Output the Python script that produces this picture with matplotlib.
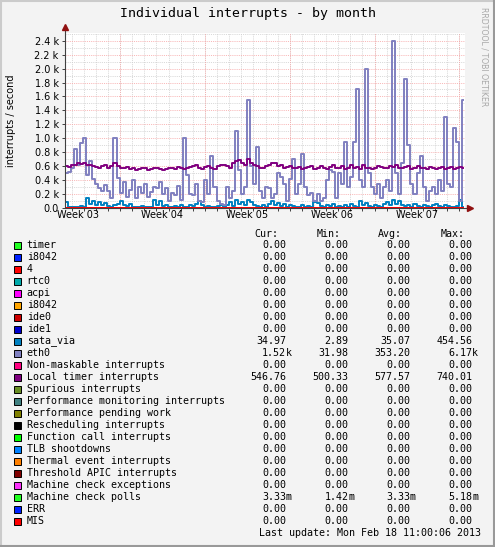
import matplotlib
matplotlib.use("Agg")
import matplotlib.pyplot as plt
import matplotlib.patches as patches
from matplotlib.lines import Line2D
from matplotlib.ticker import FuncFormatter, FixedLocator
import numpy as np

W, H = 495, 547

# 6-hour samples over the 33 day window (days since Wed Jan 16 11:00)
eth0 = [500, 510, 580, 850, 620, 930, 1000, 480, 680, 420,
        350, 280, 240, 330, 250, 140, 1000, 430, 220, 380,
        160, 260, 400, 150, 300, 220, 350, 160, 230, 300,
        280, 380, 200, 290, 100, 210, 190, 310, 120, 1000,
        480, 200, 180, 350, 100, 80, 400, 200, 750, 300,
        100, 60, 50, 300, 150, 250, 1100, 550, 200, 300,
        1550, 600, 350, 880, 250, 150, 300, 280, 150, 200,
        500, 450, 350, 100, 420, 700, 200, 350, 780, 300,
        180, 220, 100, 200, 100, 150, 400, 550, 520, 150,
        500, 350, 950, 300, 450, 950, 1700, 400, 300, 2000,
        500, 300, 200, 350, 150, 300, 400, 250, 2400, 500,
        200, 650, 1850, 900, 350, 200, 500, 750, 300, 100,
        250, 300, 200, 400, 250, 1300, 350, 300, 1150, 950,
        100, 1550]

local_timer = [600, 590, 610, 620, 640, 630, 650, 610, 620, 600, 590,
               580, 600, 620, 580, 600, 640, 600, 580, 570, 590,
               560, 570, 550, 560, 580, 570, 550, 560, 580, 570,
               560, 540, 560, 580, 570, 560, 590, 580, 560, 570,
               590, 600, 610, 570, 560, 590, 600, 580, 560, 600,
               620, 610, 600, 580, 640, 680, 690, 650, 620, 700,
               650, 610, 600, 580, 570, 600, 620, 650, 640, 600,
               620, 580, 590, 600, 570, 580, 590, 560, 570, 590,
               600, 560, 570, 600, 580, 560, 590, 610, 570, 580,
               600, 560, 580, 620, 580, 590, 560, 620, 570, 580,
               560, 580, 600, 590, 570, 580, 600, 590, 620, 580,
               570, 590, 600, 560, 580, 600, 570, 580, 560, 590,
               570, 560, 580, 590, 560, 570, 590, 560, 570, 590, 580]

sata_via = [80, 10, 20, 10, 20, 30, 20, 150, 60, 100, 50,
            90, 40, 70, 30, 20, 40, 60, 100, 40, 30,
            60, 20, 10, 20, 30, 10, 20, 10, 120, 40,
            100, 30, 50, 20, 10, 30, 20, 40, 10, 20,
            50, 30, 60, 100, 40, 20, 30, 20, 10, 30,
            50, 20, 40, 80, 30, 120, 60, 90, 40, 110,
            80, 50, 30, 20, 40, 20, 60, 100, 40, 70,
            30, 60, 20, 40, 30, 20, 10, 40, 20, 30,
            20, 90, 70, 30, 20, 40, 30, 60, 20, 30,
            10, 40, 20, 60, 30, 20, 100, 40, 70, 30,
            20, 40, 30, 20, 60, 90, 40, 120, 60, 100,
            50, 30, 40, 20, 60, 30, 20, 50, 30, 20,
            40, 60, 30, 20, 40, 30, 20, 10, 30, 120, 20]

names = ["timer", "i8042", "4", "rtc0", "acpi", "i8042", "ide0", "ide1",
         "sata_via", "eth0", "Non-maskable interrupts", "Local timer interrupts",
         "Spurious interrupts", "Performance monitoring interrupts",
         "Performance pending work", "Rescheduling interrupts",
         "Function call interrupts", "TLB shootdowns", "Thermal event interrupts",
         "Threshold APIC interrupts", "Machine check exceptions",
         "Machine check polls", "ERR", "MIS"]
colors = ["#22ff22", "#0022ff", "#ff0000", "#00aaaa", "#ff00ff", "#ffa500",
          "#cc0000", "#0000cc", "#0080c0", "#8080c0", "#ff0080", "#800080",
          "#688e23", "#408080", "#808000", "#000000", "#00ff00", "#0080ff",
          "#ff8000", "#800000", "#fb31fb", "#22ff22", "#0022ff", "#ff0000"]
cur = [0] * 8 + [34.97, 1520, 0, 546.76] + [0] * 9 + [0.00333, 0, 0]
vmin = [0] * 8 + [2.89, 31.98, 0, 500.33] + [0] * 9 + [0.00142, 0, 0]
vavg = [0] * 8 + [35.07, 353.20, 0, 577.57] + [0] * 9 + [0.00333, 0, 0]
vmax = [0] * 8 + [454.56, 6170, 0, 740.01] + [0] * 9 + [0.00518, 0, 0]

week_labels = ["Week 03", "Week 04", "Week 05", "Week 06", "Week 07"]
week_starts = [-2.4583, 4.5417, 11.5417, 18.5417, 25.5417, 32.5417]

series = {"sata_via": sata_via, "eth0": eth0, "Local timer interrupts": local_timer}


def fx(x):
    return x / W


def fy(y):
    return 1 - y / H


def si(v):
    if v == 0:
        return "0.00", ""
    if abs(v) >= 1000:
        return "%.2f" % (v / 1000), "k"
    if abs(v) < 1:
        return "%.2f" % (v * 1000), "m"
    return "%.2f" % v, ""


fig = plt.figure(figsize=(W / 100, H / 100), dpi=100)
fig.set_facecolor("#f3f3f3")

# rrdtool style frame
fig.add_artist(Line2D([0, 1], [fy(1), fy(1)], color="#cbcbcb", lw=1.5, transform=fig.transFigure))
fig.add_artist(Line2D([fx(1), fx(1)], [0, 1], color="#cbcbcb", lw=1.5, transform=fig.transFigure))
fig.add_artist(Line2D([0, 1], [fy(546), fy(546)], color="#999999", lw=1.5, transform=fig.transFigure))
fig.add_artist(Line2D([fx(494), fx(494)], [0, 1], color="#999999", lw=1.5, transform=fig.transFigure))

ax = fig.add_axes([fx(65), fy(208), 400 / W, 175 / H])
ax.set_facecolor("white")
ax.set_xlim(0, 33)
ax.set_ylim(0, 2510)

# grid: grey dotted minor, pink dashed major
minor = dict(color="#cfcfcf", lw=0.55, ls=(0, (1.4, 1.4)), zorder=0)
major = dict(color="#f7a6a6", lw=0.55, ls=(0, (1.4, 1.4)), zorder=0)
for d in np.arange(0.5417, 33, 1.0):
    ax.axvline(d, **minor)
for v in range(100, 2510, 200):
    ax.axhline(v, **minor)
for w in week_starts[1:]:
    ax.axvline(w, **major)
for v in range(200, 2510, 200):
    ax.axhline(v, **major)

t = np.arange(len(eth0) + 1) * 0.25
t[-1] = 32.85
for name, col in zip(names, colors):
    if name in series:
        vals = series[name]
        y = list(vals) + [vals[-1]]
    else:
        y = np.zeros(len(t))
    ax.plot(t[:len(y)], y, drawstyle="steps-post", color=col, lw=1.4, zorder=2)

for s in ["top", "right"]:
    ax.spines[s].set_visible(False)
ax.spines["left"].set_color("#404040")
ax.spines["bottom"].set_color("#404040")
ax.spines["left"].set_linewidth(0.8)
ax.spines["bottom"].set_linewidth(0.8)
ax.spines["left"].set_bounds(0, 2560)
ax.spines["bottom"].set_bounds(0, 33.3)
ax.plot([0], [2600], marker="^", color="#901010", ms=4, clip_on=False, zorder=5)
ax.plot([33.45], [0], marker=">", color="#901010", ms=4, clip_on=False, zorder=5)

ax.yaxis.set_major_locator(FixedLocator(range(0, 2500, 200)))
ax.yaxis.set_major_formatter(FuncFormatter(lambda v, p: "0.0" if v == 0 else "%.1f k" % (v / 1000)))
ax.set_xticks(week_starts[1:])
ax.set_xticklabels([])
ax.set_xticks(np.arange(0.5417, 33, 1.0), minor=True)
ax.tick_params(axis="y", length=2.5, width=0.7, pad=2, labelsize=7, color="#404040")
ax.tick_params(axis="x", which="both", length=2, width=0.7, color="#404040")
for lab, w in zip(week_labels, week_starts):
    ax.text(w + 3.5, -95, lab, ha="center", va="center", fontsize=7, family="DejaVu Sans")

fig.text(fx(247.5), fy(13), "Individual interrupts - by month", ha="center", va="center",
         fontsize=9.5, family="DejaVu Sans Mono")
fig.text(fx(11), fy(120.5), "interrupts / second", ha="center", va="center",
         rotation=90, fontsize=7, family="DejaVu Sans")
fig.text(fx(484), fy(57), "RRDTOOL / TOBI OETIKER", ha="center", va="center",
         rotation=270, fontsize=5.6, color="#a8a8a8", family="DejaVu Sans")

# legend
mono = dict(fontsize=7.2, family="DejaVu Sans Mono", va="center")
col_end = [286, 348.3, 410, 472.3]
for hdr, xe in zip(["Cur:", "Min:", "Avg:", "Max:"], col_end):
    fig.text(fx(xe - 8), fy(234), hdr, ha="right", **mono)
for i, (name, col) in enumerate(zip(names, colors)):
    yrow = 245 + 12 * i
    fig.add_artist(patches.Rectangle((fx(13.5), fy(yrow + 3.5)), 7 / W, 7 / H, facecolor=col,
                                     edgecolor="black", lw=0.7, transform=fig.transFigure))
    fig.text(fx(26.7), fy(yrow), name, ha="left", **mono)
    for v, xe in zip([cur[i], vmin[i], vavg[i], vmax[i]], col_end):
        num, suf = si(v)
        fig.text(fx(xe), fy(yrow), num, ha="right", **mono)
        if suf:
            fig.text(fx(xe), fy(yrow), suf, ha="left", **mono)
fig.text(fx(481), fy(533), "Last update: Mon Feb 18 11:00:06 2013", ha="right", **mono)

fig.savefig("out.png", dpi=100, facecolor=fig.get_facecolor())
